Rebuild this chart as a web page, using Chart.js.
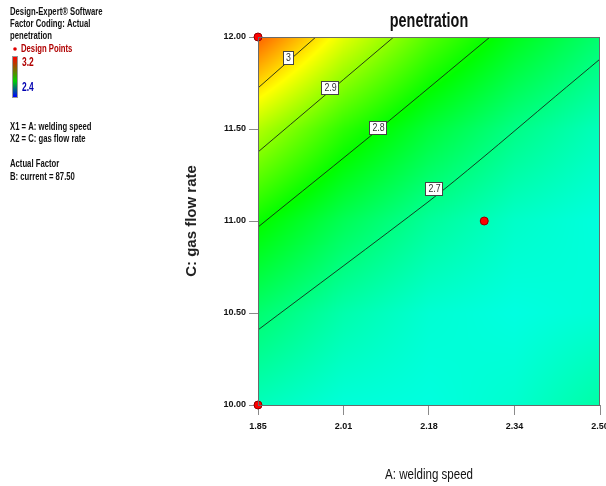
<!DOCTYPE html>
<html>
<head>
<style>
  body { margin: 0; background: #fff; }
  #wrap { width: 606px; height: 486px; }
</style>
<script src="https://cdn.jsdelivr.net/npm/chart.js@4"></script>
</head>
<body>
<div id="wrap"><canvas id="contourChart" width="606" height="486"></canvas></div>
<script>
const SANS = '"Liberation Sans", Arial, sans-serif';

// axis ticks
const xTickValues = [1.85, 2.0125, 2.175, 2.3375, 2.50];
const xTickLabels = ['1.85', '2.01', '2.18', '2.34', '2.50'];
const yTickValues = [10.0, 10.5, 11.0, 11.5, 12.0];
const yTickLabels = ['10.00', '10.50', '11.00', '11.50', '12.00'];

// response surface (rows = gas flow rate, cols = welding speed)
const gridX = [1.85, 2.0125, 2.175, 2.3375, 2.50];
const gridY = [10.0, 10.5, 11.0, 11.5, 12.0];
const penetrationGrid = [
  [2.653, 2.630, 2.625, 2.638, 2.670],
  [2.713, 2.665, 2.635, 2.624, 2.632],
  [2.807, 2.733, 2.679, 2.643, 2.626],
  [2.940, 2.835, 2.756, 2.695, 2.653],
  [3.125, 2.980, 2.866, 2.780, 2.713]
];
const colorMin = 2.4, colorMax = 3.2;

// contour lines
const contour30 = [{x: 1.85, y: 11.723}, {x: 1.960, y: 12.0}];
const contour29 = [{x: 1.85, y: 11.375}, {x: 2.108, y: 12.0}];
const contour28 = [{x: 1.85, y: 10.967}, {x: 2.078, y: 11.495}, {x: 2.291, y: 12.0}];
const contour27 = [{x: 1.85, y: 10.408}, {x: 2.173, y: 11.103}, {x: 2.272, y: 11.332},
                   {x: 2.416, y: 11.679}, {x: 2.50, y: 11.880}];
const contourLabels = [
  {text: '3', x: 1.907, y: 11.891},
  {text: '2.9', x: 1.987, y: 11.728},
  {text: '2.8', x: 2.078, y: 11.511},
  {text: '2.7', x: 2.184, y: 11.179}
];

// design points
const designPoints = [{x: 1.85, y: 12.0}, {x: 1.85, y: 10.0}, {x: 2.28, y: 11.0}];

function surfaceAt(xv, yv) {
  let i = 0, j = 0;
  while (i < gridX.length - 2 && xv > gridX[i + 1]) i++;
  while (j < gridY.length - 2 && yv > gridY[j + 1]) j++;
  const tx = Math.min(1, Math.max(0, (xv - gridX[i]) / (gridX[i + 1] - gridX[i])));
  const ty = Math.min(1, Math.max(0, (yv - gridY[j]) / (gridY[j + 1] - gridY[j])));
  const g = penetrationGrid;
  const bottom = g[j][i] * (1 - tx) + g[j][i + 1] * tx;
  const top = g[j + 1][i] * (1 - tx) + g[j + 1][i + 1] * tx;
  return bottom * (1 - ty) + top * ty;
}

const stops = [[0, 0, 255], [0, 255, 255], [0, 255, 0], [255, 255, 0], [255, 0, 0]];
function colorFor(v) {
  let t = (v - colorMin) / (colorMax - colorMin);
  t = Math.min(1, Math.max(0, t)) * (stops.length - 1);
  const k = Math.min(stops.length - 2, Math.floor(t));
  const f = t - k;
  return stops[k].map((c, n) => Math.round(c + (stops[k + 1][n] - c) * f));
}

// narrow text: the reference uses a condensed face, so squeeze it horizontally
function squeezed(ctx, text, x, y, sx, align) {
  ctx.save();
  ctx.translate(x, y);
  ctx.scale(sx, 1);
  ctx.textAlign = align || 'left';
  ctx.fillText(text, 0, 0);
  ctx.restore();
}

const surfacePlugin = {
  id: 'surface',
  beforeDatasetsDraw(chart) {
    const {ctx, chartArea: a, scales: {x, y}} = chart;
    const w = Math.round(a.right - a.left), h = Math.round(a.bottom - a.top);
    const off = document.createElement('canvas');
    off.width = w; off.height = h;
    const octx = off.getContext('2d');
    const img = octx.createImageData(w, h);
    for (let j = 0; j < h; j++) {
      const yv = y.getValueForPixel(a.top + j + 0.5);
      for (let i = 0; i < w; i++) {
        const xv = x.getValueForPixel(a.left + i + 0.5);
        const c = colorFor(surfaceAt(xv, yv));
        const k = (j * w + i) * 4;
        img.data[k] = c[0]; img.data[k + 1] = c[1]; img.data[k + 2] = c[2]; img.data[k + 3] = 255;
      }
    }
    octx.putImageData(img, 0, 0);
    ctx.drawImage(off, a.left, a.top);
  },
  afterDatasetsDraw(chart) {
    const {ctx, chartArea: a, scales: {x, y}} = chart;
    ctx.save();
    // frame
    ctx.strokeStyle = '#6a6a6a';
    ctx.lineWidth = 1;
    ctx.strokeRect(a.left + 0.5, a.top + 0.5, a.right - a.left - 1, a.bottom - a.top);
    // contour labels
    ctx.font = '11px ' + SANS;
    ctx.textBaseline = 'middle';
    contourLabels.forEach(l => {
      const px = Math.round(x.getPixelForValue(l.x)), py = Math.round(y.getPixelForValue(l.y));
      const bw = Math.round(Math.max(10, ctx.measureText(l.text).width * 0.8 + 5)), bh = 13;
      const bx = px - Math.round(bw / 2), by = py - 6;
      ctx.fillStyle = '#fff';
      ctx.fillRect(bx, by, bw, bh);
      ctx.strokeStyle = '#444';
      ctx.strokeRect(bx + 0.5, by + 0.5, bw, bh);
      ctx.fillStyle = '#333';
      squeezed(ctx, l.text, px + 0.5, py + 1, 0.8, 'center');
    });
    ctx.restore();
  },
  afterDraw(chart) {
    const {ctx, chartArea: a} = chart;
    const cx = (a.left + a.right) / 2;
    ctx.save();
    ctx.textBaseline = 'middle';
    // title and x axis title
    ctx.fillStyle = '#111';
    ctx.font = 'bold 20px ' + SANS;
    squeezed(ctx, 'penetration', cx, 21, 0.72, 'center');
    ctx.font = '15px ' + SANS;
    squeezed(ctx, 'A: welding speed', cx, 475, 0.77, 'center');
    // side notes
    const sx = 0.7;
    ctx.font = 'bold 11px ' + SANS;
    ctx.fillStyle = '#111';
    squeezed(ctx, 'Design-Expert\u00ae Software', 10, 12, sx);
    squeezed(ctx, 'Factor Coding: Actual', 10, 24, sx);
    squeezed(ctx, 'penetration', 10, 36, sx);
    ctx.fillStyle = '#e00000';
    ctx.beginPath(); ctx.arc(15, 49, 1.8, 0, Math.PI * 2); ctx.fill();
    ctx.fillStyle = '#b00000';
    squeezed(ctx, 'Design Points', 21, 49, sx);
    const grad = ctx.createLinearGradient(0, 57, 0, 97);
    grad.addColorStop(0, '#ff0000');
    grad.addColorStop(0.6, '#00d000');
    grad.addColorStop(1, '#0000ff');
    ctx.fillStyle = grad;
    ctx.fillRect(13, 57, 4, 40);
    ctx.strokeStyle = '#999';
    ctx.strokeRect(12.5, 56.5, 5, 41);
    ctx.font = 'bold 12px ' + SANS;
    ctx.fillStyle = '#b00000';
    squeezed(ctx, '3.2', 22, 63, sx);
    ctx.fillStyle = '#0000b0';
    squeezed(ctx, '2.4', 22, 88, sx);
    ctx.font = 'bold 11px ' + SANS;
    ctx.fillStyle = '#111';
    squeezed(ctx, 'X1 = A: welding speed', 10, 127, sx);
    squeezed(ctx, 'X2 = C: gas flow rate', 10, 139, sx);
    squeezed(ctx, 'Actual Factor', 10, 164, sx);
    squeezed(ctx, 'B: current = 87.50', 10, 177, sx);
    ctx.restore();
  }
};

const lineStyle = {type: 'line', borderColor: 'rgba(20,30,20,0.85)', borderWidth: 1,
  pointRadius: 0, tension: 0.3, fill: false};

new Chart(document.getElementById('contourChart'), {
  type: 'scatter',
  data: {
    datasets: [
      Object.assign({label: '3', data: contour30}, lineStyle),
      Object.assign({label: '2.9', data: contour29}, lineStyle),
      Object.assign({label: '2.8', data: contour28}, lineStyle),
      Object.assign({label: '2.7', data: contour27}, lineStyle),
      {label: 'Design Points', data: designPoints, pointRadius: 4, pointBackgroundColor: '#ff0000',
        pointBorderColor: '#900000', pointBorderWidth: 1, clip: false}
    ]
  },
  options: {
    responsive: false,
    animation: false,
    layout: {padding: {top: 37, right: 6, left: 0, bottom: 0}},
    plugins: {legend: {display: false}, tooltip: {enabled: false}, title: {display: false}},
    scales: {
      x: {
        type: 'linear', min: 1.85, max: 2.50,
        afterBuildTicks: s => { s.ticks = xTickValues.map(v => ({value: v})); },
        afterFit: s => { s.height = 81; s.paddingLeft = 0; s.paddingRight = 0; },
        ticks: {callback: (v, i) => xTickLabels[i], color: '#111', padding: 6, maxRotation: 0,
          font: {family: SANS, size: 9, weight: 'bold'}},
        grid: {drawOnChartArea: false, drawTicks: true, tickLength: 10, color: '#8a8a8a'},
        border: {display: false},
        title: {display: false}
      },
      y: {
        type: 'linear', min: 10, max: 12,
        afterBuildTicks: s => { s.ticks = yTickValues.map(v => ({value: v})); },
        afterFit: s => { s.width = 258; s.paddingTop = 0; s.paddingBottom = 0; },
        ticks: {callback: (v, i) => yTickLabels[i], color: '#111', padding: 3,
          font: {family: SANS, size: 9, weight: 'bold'}},
        grid: {drawOnChartArea: false, drawTicks: true, tickLength: 9, color: '#8a8a8a'},
        border: {display: false},
        title: {display: true, text: 'C: gas flow rate', color: '#222',
          font: {family: SANS, size: 15, weight: 'bold'},
          padding: {top: 183, bottom: 0}}
      }
    }
  },
  plugins: [surfacePlugin]
});
</script>
</body>
</html>
